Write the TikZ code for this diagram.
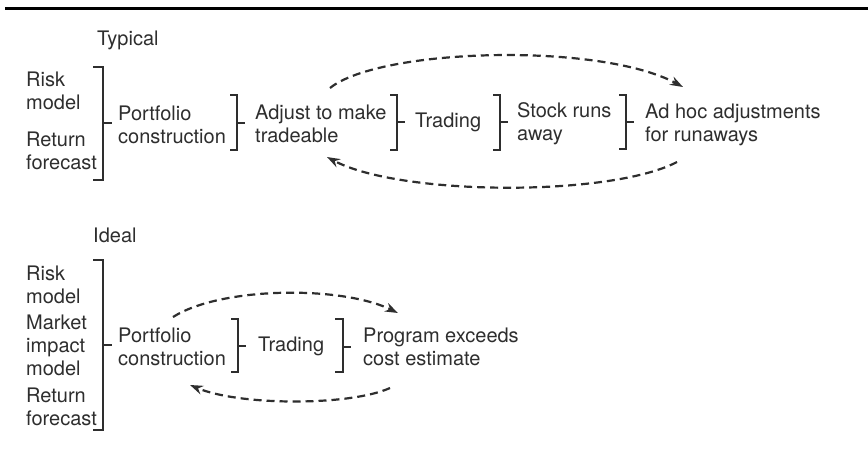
\documentclass[tikz,border=0pt]{standalone}
\usepackage{fontspec}
\setmainfont{TeX Gyre Heros}
\usetikzlibrary{arrows.meta}
\definecolor{ink}{HTML}{2E2E2E}
\begin{document}
\begin{tikzpicture}[x=1pt,y=-1pt,
  txt/.style={anchor=west,inner sep=0pt,align=left,text=ink,font=\fontsize{20}{23}\selectfont},
  br/.style={draw=ink,line width=2.2pt},
  loop/.style={draw=ink,line width=2.2pt,dash pattern=on 8pt off 5pt,-{Stealth[length=13pt,width=9pt]}}]
\useasboundingbox (0,0) rectangle (868,451);
\fill[white] (0,0) rectangle (868,451);
\draw[black,line width=3pt] (5,8) -- (868,8);
% Typical
\node[txt] (typ) at (97,40) {Typical};
\node[txt] (risk1) at (26,91) {Risk\\model};
\node[txt] (ret1) at (26,151) {Return\\forecast};
\node[txt] (pc1) at (118,125) {Portfolio\\construction};
\node[txt] (adj) at (255,124) {Adjust to make\\tradeable};
\node[txt] (trd1) at (415,122) {Trading};
\node[txt] (stock) at (517,124) {Stock runs\\away};
\node[txt] (adhoc) at (645,125) {Ad hoc adjustments\\for runaways};
\draw[br] (93,67) -- (103,67) -- (103,180) -- (93,180); \draw[br] (103,123) -- (112,123);
\draw[br] (230,95) -- (237,95) -- (237,150) -- (230,150); \draw[br] (237,123) -- (245,123);
\draw[br] (390,95) -- (397,95) -- (397,150) -- (390,150); \draw[br] (397,122) -- (405,122);
\draw[br] (493,95) -- (500,95) -- (500,150) -- (493,150); \draw[br] (500,122) -- (508,122);
\draw[br] (619,95) -- (626,95) -- (626,149) -- (619,149); \draw[br] (626,122) -- (634,122);
\coordinate (a1) at (330,88); \coordinate (a2) at (683,87);
\coordinate (b1) at (677,162); \coordinate (b2) at (327,157);
\draw[loop] (a1) .. controls (380,48) and (600,42) .. (a2);
\draw[loop] (b1) .. controls (610,197) and (400,196) .. (b2);
% Ideal
\node[txt] (ideal) at (93,235) {Ideal};
\node[txt] (risk2) at (26,285) {Risk\\model};
\node[txt] (mim) at (26,345) {Market\\impact\\model};
\node[txt] (ret2) at (26,407) {Return\\forecast};
\node[txt] (pc2) at (118,347) {Portfolio\\construction};
\node[txt] (trd2) at (258,346) {Trading};
\node[txt] (prog) at (363,347) {Program exceeds\\cost estimate};
\draw[br] (93,260) -- (103,260) -- (103,430) -- (93,430); \draw[br] (103,345) -- (112,345);
\draw[br] (231,319) -- (238,319) -- (238,372) -- (231,372); \draw[br] (238,346) -- (246,346);
\draw[br] (335,319) -- (343,319) -- (343,372) -- (335,372); \draw[br] (343,347) -- (351,347);
\coordinate (c1) at (173,317); \coordinate (c2) at (398,313);
\coordinate (d1) at (390,388); \coordinate (d2) at (190,385);
\draw[loop] (c1) .. controls (220,287) and (340,285) .. (c2);
\draw[loop] (d1) .. controls (350,406) and (240,406) .. (d2);
\end{tikzpicture}
\end{document}
